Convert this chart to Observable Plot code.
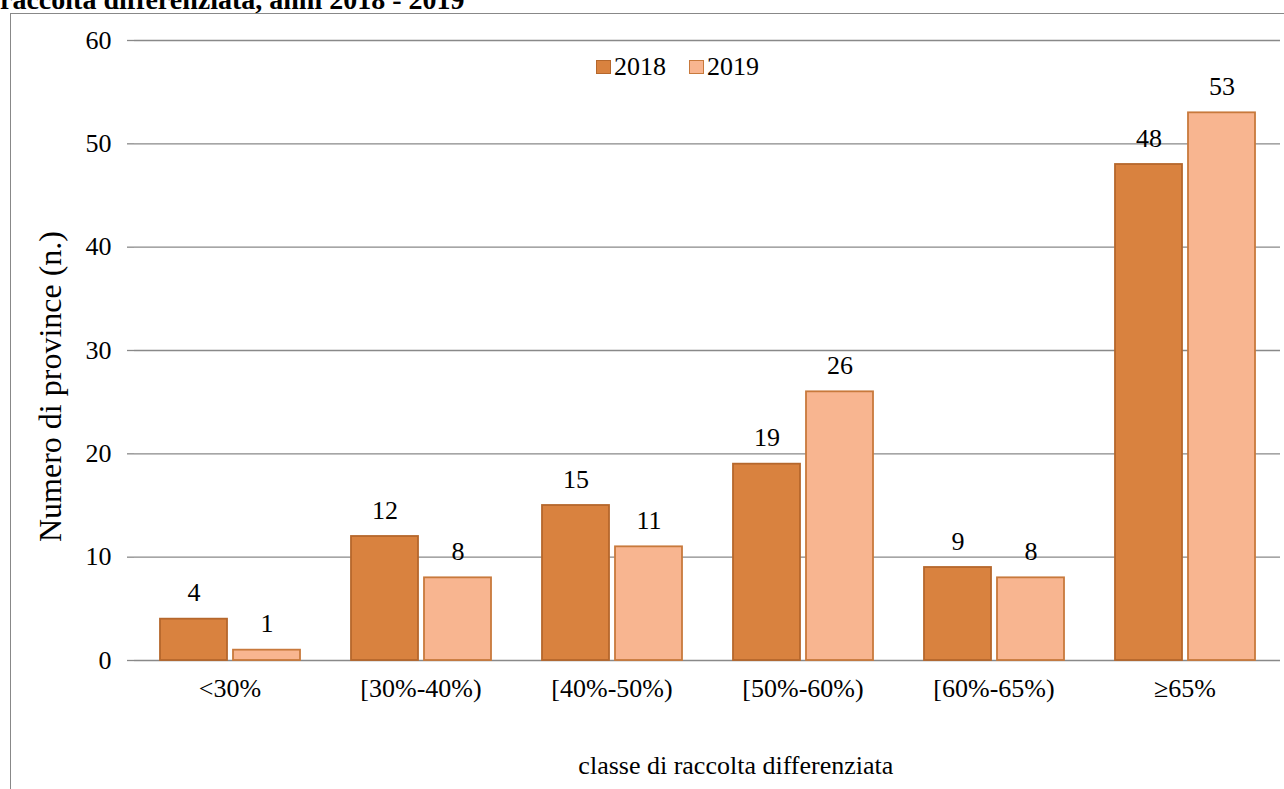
<!DOCTYPE html>
<html><head><meta charset="utf-8">
<script src="https://cdn.jsdelivr.net/npm/d3@7"></script>
<script src="https://cdn.jsdelivr.net/npm/@observablehq/plot@0.6"></script>
<style>
html,body{margin:0;padding:0;overflow:hidden;background:#fff;}
#wrap{position:relative;width:1284px;height:789px;overflow:hidden;font-family:"Liberation Serif",serif;color:#000;}
#frame{position:absolute;left:10px;top:13px;width:1400px;height:900px;border:1px solid #888;box-sizing:border-box;}
#title{position:absolute;left:0;top:-14px;font-weight:bold;font-size:28px;line-height:28px;white-space:nowrap;}
#chart{position:absolute;left:0;top:0;}
.lg{position:absolute;font-size:26px;line-height:26px;white-space:nowrap;font-family:"Liberation Serif",serif;}
.sw{position:absolute;width:15px;height:14px;box-sizing:border-box;border:1.5px solid;}
</style></head>
<body><div id="wrap"><div id="frame"></div><div id="title">raccolta differenziata, anni 2018 - 2019</div><div id="chart"></div><div id="legend"></div></div>
<script>
const categories = ["<30%", "[30%-40%)", "[40%-50%)", "[50%-60%)", "[60%-65%)", "≥65%"];
const years = ["2018", "2019"];
const values2018 = [4, 12, 15, 19, 9, 48];
const values2019 = [1, 8, 11, 26, 8, 53];
const yTicks = [0, 10, 20, 30, 40, 50, 60];
const yTitle = "Numero di province (n.)";
const xTitle = "classe di raccolta differenziata";

const fills = ["#D9823F", "#F8B590"];
const strokes = ["#B5672C", "#C8793C"];
const gray = "#898989";
const FONT = "Liberation Serif";

const W = 1284, H = 789, mL = 132, mR = 2, mT = 40, mB = 129;
const step = (W - mL - mR) / categories.length;
const seriesValues = [values2018, values2019];
const data = categories.flatMap((c, i) => years.map((yr, j) => ({category: c, year: yr, value: seriesValues[j][i]})));

const txt = {fontFamily: FONT, fontVariant: "normal", fill: "#000"};

const chart = Plot.plot({
  width: W, height: H,
  marginLeft: mL, marginRight: mR, marginTop: mT, marginBottom: mB,
  style: {fontFamily: FONT, fontSize: "26px", background: "transparent", color: "#000"},
  fx: {domain: categories, padding: 0, axis: null},
  x: {domain: years, paddingInner: 0.086, paddingOuter: 0.34, axis: null},
  y: {domain: [0, 60], axis: null},
  marks: [
    Plot.gridY(yTicks, {stroke: gray, strokeOpacity: 1, strokeWidth: 1.3}),
    Plot.axisY(yTicks, {tickSize: 7, tickPadding: 16, stroke: gray, strokeWidth: 1.3, fontSize: 26, fontFamily: FONT, fontVariant: "normal", label: null, tickFormat: d => String(d)}),
    Plot.ruleX([categories[0]], {fx: d => d, y1: 60, y2: 0, dx: -step / 2, insetBottom: -8, stroke: gray, strokeWidth: 1.3}),
    Plot.ruleX(categories.slice(1), {fx: d => d, y1: 0, y2: 0, dx: -step / 2, insetBottom: -8, stroke: gray, strokeWidth: 1.3}),
    Plot.ruleX([categories[categories.length - 1]], {fx: d => d, y1: 0, y2: 0, dx: step / 2, insetBottom: -8, stroke: gray, strokeWidth: 1.3}),
    ...years.map((yr, j) => Plot.barY(data.filter(d => d.year === yr), {fx: "category", x: "year", y: "value", fill: fills[j], stroke: strokes[j], strokeWidth: 1.8})),
    Plot.text(data, {fx: "category", x: "year", y: "value", text: d => String(d.value), dy: -26, fontSize: 26, ...txt}),
    Plot.text(categories, {fx: d => d, text: d => d, frameAnchor: "bottom", dy: 36, fontSize: 26, ...txt}),
    Plot.text([yTitle], {fx: () => categories[0], text: d => d, frameAnchor: "left", textAnchor: "middle", rotate: -90, dx: -84, dy: 36, fontSize: 32, ...txt}),
    Plot.text([xTitle], {fx: () => categories[2], text: d => d, frameAnchor: "bottom", dx: 735 - (mL + 2.5 * step), dy: 113, fontSize: 26, ...txt})
  ]
});
document.getElementById("chart").appendChild(chart);

// legend
const legend = document.getElementById("legend");
const swX = [596, 689];
years.forEach((yr, j) => {
  const sw = document.createElement("div");
  sw.className = "sw";
  sw.style.left = swX[j] + "px";
  sw.style.top = "60px";
  sw.style.background = fills[j];
  sw.style.borderColor = strokes[j];
  legend.appendChild(sw);
  const t = document.createElement("div");
  t.className = "lg";
  t.style.left = (swX[j] + 18) + "px";
  t.style.top = "54px";
  t.textContent = yr;
  legend.appendChild(t);
});
</script>
</body></html>
